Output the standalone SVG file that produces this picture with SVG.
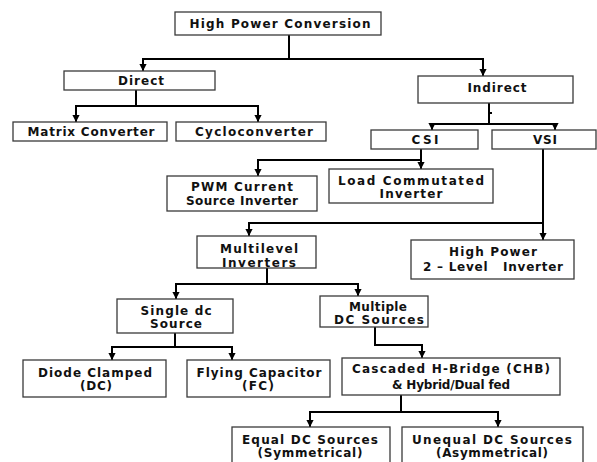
<svg xmlns="http://www.w3.org/2000/svg" width="597" height="462" viewBox="0 0 597 462">
<style>
  .box{fill:#fff;stroke:#3a3a3a;stroke-width:1.3}
  .t{font-family:"DejaVu Sans","Liberation Sans",Arial,sans-serif;font-weight:bold;font-size:12px;fill:#111;text-anchor:middle;white-space:pre}
  .c{fill:none;stroke:#000;stroke-width:2}
</style>
<defs>
  <marker id="ah" markerUnits="userSpaceOnUse" markerWidth="8" markerHeight="8" viewBox="0 -4 8 8" refX="7" refY="0" orient="auto">
    <path d="M0,-3.6 L7,0 L0,3.6 z" fill="#000"/>
  </marker>
</defs>
<rect width="597" height="462" fill="#fff"/>
<g id="connectors">
  <path class="c" d="M289,35 V59 H143 V71" marker-end="url(#ah)"/>
  <path class="c" d="M289,59 H483 V76" marker-end="url(#ah)"/>
  <path class="c" d="M136,90 V106 H76 V122" marker-end="url(#ah)"/>
  <path class="c" d="M136,106 H258 V122" marker-end="url(#ah)"/>
  <path class="c" d="M489,103 V124 H432 V130" marker-end="url(#ah)"/>
  <path class="c" d="M489,124 H555 V130" marker-end="url(#ah)"/>
  <path class="c" d="M489,113 H492" stroke-width="1.2"/>
  <path class="c" d="M421,149 V169" marker-end="url(#ah)"/>
  <path class="c" d="M421,160 H258 V176" marker-end="url(#ah)"/>
  <path class="c" d="M543,149 V240" marker-end="url(#ah)"/>
  <path class="c" d="M543,223 H249 V236" marker-end="url(#ah)"/>
  <path class="c" d="M267,268 V284 H176 V299" marker-end="url(#ah)"/>
  <path class="c" d="M267,284 H358 V296" marker-end="url(#ah)"/>
  <path class="c" d="M175,333 V347 H112 V360" marker-end="url(#ah)"/>
  <path class="c" d="M175,347 H232 V360" marker-end="url(#ah)"/>
  <path class="c" d="M375,327 V345 H422 V358" marker-end="url(#ah)"/>
  <path class="c" d="M401,395 V412 H310 V427" marker-end="url(#ah)"/>
  <path class="c" d="M401,412 H498 V427" marker-end="url(#ah)"/>
</g>
<g id="hpc"><rect class="box" x="175" y="12" width="206" height="23"/><text class="t" x="280" y="28" textLength="181">High Power Conversion</text></g>
<g id="direct"><rect class="box" x="64" y="71" width="151" height="19"/><text class="t" x="141" y="85" textLength="46">Direct</text></g>
<g id="indirect"><rect class="box" x="418" y="76" width="155" height="27"/><text class="t" x="497" y="92" textLength="59">Indirect</text></g>
<g id="matrix"><rect class="box" x="13" y="122" width="154" height="19"/><text class="t" x="91" y="136" textLength="127">Matrix Converter</text></g>
<g id="cyclo"><rect class="box" x="176" y="122" width="150" height="19"/><text class="t" x="254" y="136" textLength="118">Cycloconverter</text></g>
<g id="csi"><rect class="box" x="371" y="130" width="107" height="19"/><text class="t" x="425" y="144" textLength="27">CSI</text></g>
<g id="vsi"><rect class="box" x="492" y="130" width="104" height="19"/><text class="t" x="545" y="144" textLength="24">VSI</text></g>
<g id="pwm"><rect class="box" x="167" y="176" width="150" height="35"/><text class="t" x="242" y="191" textLength="102">PWM Current</text><text class="t" x="242" y="205" textLength="112">Source Inverter</text></g>
<g id="lci"><rect class="box" x="329" y="169" width="164" height="34"/><text class="t" x="411" y="185" textLength="146">Load Commutated</text><text class="t" x="411" y="198" textLength="63">Inverter</text></g>
<g id="multilevel"><rect class="box" x="197" y="236" width="119" height="32"/><text class="t" x="259" y="253" textLength="78">Multilevel</text><text class="t" x="259" y="267" textLength="74">Inverters</text></g>
<g id="twolevel"><rect class="box" x="411" y="240" width="163" height="39"/><text class="t" x="493" y="256" textLength="88">High Power</text><text class="t" x="493" y="271" textLength="140">2 – Level   Inverter</text></g>
<g id="single"><rect class="box" x="117" y="299" width="116" height="34"/><text class="t" x="176" y="315" textLength="71">Single dc</text><text class="t" x="176" y="328" textLength="52">Source</text></g>
<g id="multiple"><rect class="box" x="320" y="296" width="108" height="31"/><text class="t" x="378" y="311" textLength="58">Multiple</text><text class="t" x="379" y="324" textLength="90">DC Sources</text></g>
<g id="diode"><rect class="box" x="23" y="360" width="143" height="37"/><text class="t" x="95" y="377" textLength="114">Diode Clamped</text><text class="t" x="96" y="390" textLength="32">(DC)</text></g>
<g id="flying"><rect class="box" x="187" y="360" width="143" height="37"/><text class="t" x="259" y="377" textLength="125">Flying Capacitor</text><text class="t" x="258" y="390" textLength="32">(FC)</text></g>
<g id="chb"><rect class="box" x="342" y="358" width="218" height="37"/><text class="t" x="451" y="373" textLength="198">Cascaded H-Bridge (CHB)</text><text class="t" x="451" y="389" textLength="118">&amp; Hybrid/Dual fed</text></g>
<g id="equal"><rect class="box" x="232" y="427" width="158" height="40"/><text class="t" x="310" y="444" textLength="136">Equal DC Sources</text><text class="t" x="310" y="457" textLength="105">(Symmetrical)</text></g>
<g id="unequal"><rect class="box" x="402" y="427" width="181" height="40"/><text class="t" x="492" y="444" textLength="160">Unequal DC Sources</text><text class="t" x="492" y="457" textLength="112">(Asymmetrical)</text></g>
</svg>
